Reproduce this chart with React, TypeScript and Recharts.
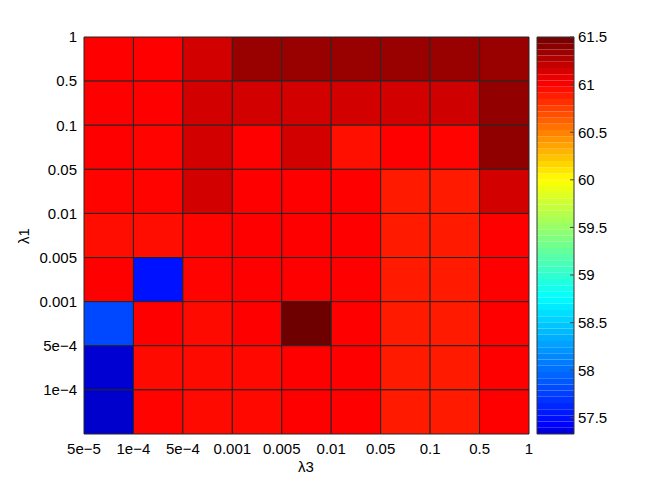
import { ScatterChart, Scatter, XAxis, YAxis, ReferenceArea } from 'recharts';

// λ3 edge labels (x axis) and λ1 labels (y axis, top row first)
const lambda3Ticks = ['5e\u22125', '1e\u22124', '5e\u22124', '0.001', '0.005', '0.01', '0.05', '0.1', '0.5', '1'];
const lambda1Ticks = ['1', '0.5', '0.1', '0.05', '0.01', '0.005', '0.001', '5e\u22124', '1e\u22124'];

// accuracy per λ1 row, one value per λ3 column
const rowL1_1 = [61.0, 61.0, 61.15, 61.35, 61.35, 61.35, 61.35, 61.35, 61.35];
const rowL1_05 = [61.0, 61.0, 61.15, 61.15, 61.15, 61.15, 61.15, 61.17, 61.37];
const rowL1_01 = [61.0, 60.99, 61.15, 61.0, 61.15, 60.94, 61.0, 60.99, 61.38];
const rowL1_005 = [60.99, 60.99, 61.15, 61.0, 61.0, 61.0, 60.9, 60.9, 61.15];
const rowL1_001 = [60.95, 60.95, 60.99, 61.0, 61.0, 61.0, 60.9, 60.9, 61.0];
const rowL1_0005 = [61.0, 57.51, 60.99, 61.0, 61.0, 61.0, 60.9, 60.9, 61.0];
const rowL1_0001 = [57.8, 61.0, 60.96, 61.0, 61.5, 61.0, 60.9, 60.9, 61.0];
const rowL1_5e4 = [57.34, 60.96, 60.96, 60.97, 61.0, 61.0, 60.9, 60.9, 61.0];
const rowL1_1e4 = [57.33, 60.99, 60.96, 60.97, 61.0, 61.0, 60.9, 60.9, 61.0];

const rows = [rowL1_1, rowL1_05, rowL1_01, rowL1_005, rowL1_001, rowL1_0005, rowL1_0001, rowL1_5e4, rowL1_1e4];

const colorbarTicks = [57.5, 58, 58.5, 59, 59.5, 60, 60.5, 61, 61.5];
const cMin = 57.33;
const cMax = 61.5;
const nBands = 64;

// jet-like colour stops (value, r, g, b)
const stops: [number, number, number, number][] = [
    [57.33, 0, 0, 0.8],
    [57.42, 0, 0, 1],
    [58.77, 0, 1, 1],
    [60.0, 1, 1, 0],
    [61.0, 1, 0, 0],
    [61.5, 0.43, 0, 0],
];

const clamp = (v: number) => Math.max(0, Math.min(1, v));

function colorOf(v: number) {
    let i = 0;
    while (i < stops.length - 2 && v > stops[i + 1][0]) i++;
    const [v0, r0, g0, b0] = stops[i];
    const [v1, r1, g1, b1] = stops[i + 1];
    const f = clamp((v - v0) / (v1 - v0));
    const h = (x: number) => Math.round(clamp(x) * 255).toString(16).padStart(2, '0');
    return `#${h(r0 + (r1 - r0) * f)}${h(g0 + (g1 - g0) * f)}${h(b0 + (b1 - b0) * f)}`;
}

const nRows = rows.length;
const cells = rows.flatMap((row, r) =>
    row.map((value, c) => ({ x: c + 0.5, y: nRows - r - 0.5, value }))
);

const bands = Array.from({ length: nBands }, (_, k) => {
    const step = (cMax - cMin) / nBands;
    return { y1: cMin + k * step, y2: cMin + (k + 1) * step, color: colorOf(cMin + (k + 0.5) * step) };
});

const font = { fontFamily: '"Liberation Sans", Arial, sans-serif', fontSize: 15, fill: '#000' };

export default function App() {
    return (
        <div style={{ position: 'absolute', left: 0, top: 0, width: 648, height: 490, background: '#fff', fontFamily: '"Liberation Sans", Arial, sans-serif' }}>
            {/* heat map */}
            <div style={{ position: 'absolute', left: 0, top: 0 }}>
                <ScatterChart width={648} height={490} margin={{ top: 37, right: 119, bottom: 26, left: 24 }}>
                    <XAxis
                        type="number"
                        dataKey="x"
                        domain={[0, 9]}
                        ticks={[0, 1, 2, 3, 4, 5, 6, 7, 8, 9]}
                        tickFormatter={(v) => lambda3Ticks[v]}
                        interval={0}
                        height={30}
                        axisLine={false}
                        tickLine={false}
                        tickSize={0}
                        tickMargin={9}
                        tick={font}
                    />
                    <YAxis
                        type="number"
                        dataKey="y"
                        domain={[0, 9]}
                        ticks={[1, 2, 3, 4, 5, 6, 7, 8, 9]}
                        tickFormatter={(v) => lambda1Ticks[9 - v]}
                        interval={0}
                        width={60}
                        axisLine={false}
                        tickLine={false}
                        tickSize={0}
                        tickMargin={7}
                        tick={font}
                    />
                    {cells.map((d, i) => (
                        <ReferenceArea
                            key={`cell-${i}`}
                            x1={d.x - 0.5}
                            x2={d.x + 0.5}
                            y1={d.y - 0.5}
                            y2={d.y + 0.5}
                            fill={colorOf(d.value)}
                            fillOpacity={1}
                            stroke="#262626"
                            strokeWidth={1}
                        />
                    ))}
                    <Scatter data={cells} isAnimationActive={false} shape={() => <g />} />
                </ScatterChart>
            </div>

            {/* colour bar */}
            <div style={{ position: 'absolute', left: 0, top: 0 }}>
                <ScatterChart width={648} height={490} margin={{ top: 37, right: 14, bottom: 56, left: 537 }}>
                    <XAxis type="number" dataKey="x" domain={[0, 1]} hide />
                    <YAxis
                        type="number"
                        dataKey="y"
                        orientation="right"
                        domain={[cMin, cMax]}
                        ticks={colorbarTicks}
                        interval={0}
                        width={60}
                        axisLine={false}
                        tickLine={{ stroke: '#444' }}
                        tickSize={-4}
                        tickMargin={8}
                        tick={{ ...font, textAnchor: 'start' }}
                    />
                    <YAxis
                        yAxisId="left"
                        type="number"
                        orientation="left"
                        domain={[cMin, cMax]}
                        ticks={colorbarTicks}
                        interval={0}
                        width={0}
                        axisLine={false}
                        tickLine={{ stroke: '#444' }}
                        tickSize={-4}
                        tick={false}
                    />
                    {bands.map((b, i) => (
                        <ReferenceArea key={`band-${i}`} x1={0} x2={1} y1={b.y1} y2={b.y2} fill={b.color} fillOpacity={1} stroke="none" />
                    ))}
                    <ReferenceArea x1={0} x2={1} y1={cMin} y2={cMax} fill="none" stroke="#333" strokeWidth={1} />
                    <Scatter data={[{ x: 0.5, y: 59 }]} isAnimationActive={false} shape={() => <g />} />
                </ScatterChart>
            </div>

            {/* axis titles */}
            <div style={{ position: 'absolute', left: 306, top: 466, transform: 'translate(-50%, -50%)', fontSize: 15 }}>λ3</div>
            <div style={{ position: 'absolute', left: 23, top: 236, transform: 'translate(-50%, -50%) rotate(-90deg)', fontSize: 15 }}>λ1</div>
        </div>
    );
}
